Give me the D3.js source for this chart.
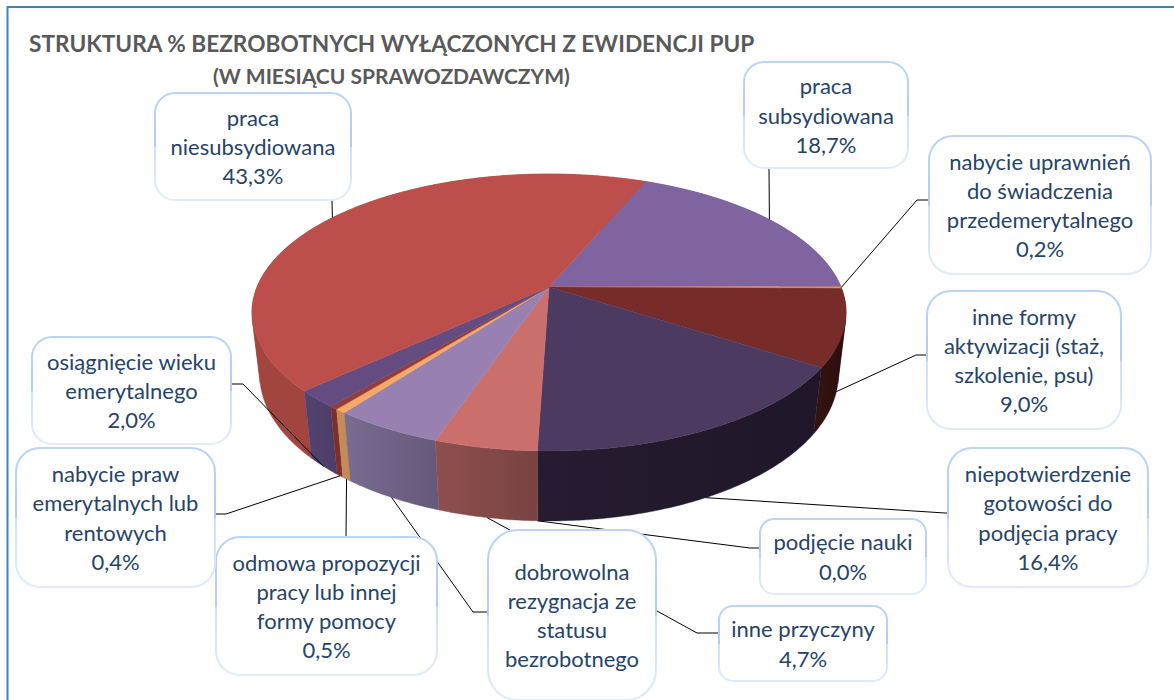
<!DOCTYPE html>
<html>
<head>
<meta charset="utf-8">
<script src="https://cdn.jsdelivr.net/npm/d3@7"></script>
<style>
  html, body { margin: 0; padding: 0; background: #fff; overflow: hidden; }
  svg { display: block; }
  text { font-family: Lato, "Open Sans", sans-serif; }
</style>
</head>
<body>
<div id="chart"></div>
<script>
const titleLines = ['STRUKTURA % BEZROBOTNYCH WYŁĄCZONYCH Z EWIDENCJI PUP', '(W MIESIĄCU SPRAWOZDAWCZYM)'];

// order follows the pie, clockwise from the first slice
const categories = [
  ['praca', 'subsydiowana'],
  ['nabycie uprawnień', 'do świadczenia', 'przedemerytalnego'],
  ['inne formy', 'aktywizacji (staż,', 'szkolenie, psu)'],
  ['niepotwierdzenie', 'gotowości do', 'podjęcia pracy'],
  ['podjęcie nauki'],
  ['inne przyczyny'],
  ['dobrowolna', 'rezygnacja ze', 'statusu', 'bezrobotnego'],
  ['odmowa propozycji', 'pracy lub innej', 'formy pomocy'],
  ['nabycie praw', 'emerytalnych lub', 'rentowych'],
  ['osiągnięcie wieku', 'emerytalnego'],
  ['praca', 'niesubsydiowana']
];
// the 5.0 is estimated from the slice, its label line is cut off in the picture
const values = [18.7, 0.2, 9.0, 16.4, 0.0, 4.7, 5.0, 0.5, 0.4, 2.0, 43.3];
const showValue = [true, true, true, true, true, true, false, true, true, true, true];

const topColors = ['#8064a0', '#f79646', '#772c2a', '#4d3a61', '#f0a060', '#cb6f6d', '#9880b0', '#f6a864', '#953b38', '#644c80', '#bc4f4b'];
const wallColors = [
  ['#5f4a78', '#5f4a78'], ['#d67f3a', '#d67f3a'], ['#2a0f0e', '#331211'], ['#1f1729', '#261b30'],
  ['#7a4442', '#7a4442'], ['#784341', '#8e504e'], ['#665a7c', '#7a6b90'], ['#c58b57', '#c58b57'],
  ['#7d2f2c', '#7d2f2c'], ['#4c3d69', '#54436f'], ['#a3453f', '#9f443f']
];

// label boxes: x, y, width, height, corner
const labelBoxes = [
  [744, 62, 164, 106, 20], [929, 136, 222, 138, 24], [927, 291, 194, 138, 24], [948, 448, 200, 139, 24],
  [760, 519, 166, 75, 14], [719, 606, 168, 75, 14], [488, 530, 168, 170, 30], [216, 537, 221, 138, 24],
  [16, 448, 199, 139, 24], [32, 337, 199, 107, 20], [155, 93, 196, 107, 20]
];
// where each leader goes after leaving the pie, ends on the box edge
const leaderPoints = [
  [[769, 168]], [[917, 200], [929, 200]], [[916, 355], [927, 355]], [[945, 513], [948, 513]],
  [[750, 548], [760, 548]], [[697, 633], [719, 633]], [[473, 612], [488, 612]], [[346, 537]],
  [[226, 514], [215, 514]], [[243, 384], [231, 384]], [[332, 200]]
];
// leader starts on the top rim for back slices, on the lower rim for the rest
const leaderOnTop = [true, true, false, false, false, false, false, false, false, false, true];

const width = 1174;
const height = 700;
const lineStep = 29.3;

const svg = d3.select('#chart').append('svg')
  .attr('width', width)
  .attr('height', height);
const defs = svg.append('defs');

// the 3d look: a disc seen in perspective, depth 0 is the top face, 1 the bottom
const cx = 549;
const cy = 287;
const radiusX = 292;
const radiusY = 133.8;
const tilt = 0.184;
const depthY = 63.2;
const depthW = 0.026;

function project(angle, depth, r) {
  const X = Math.sin(angle) * r;
  const Y = -Math.cos(angle) * r;
  const w = 1 - tilt * Y + depthW * depth;
  return [cx + radiusX * X / w, cy + (radiusY * Y + depthY * depth) / w];
}

const pie = d3.pie().sort(null).value(d => d)
  .startAngle(22.7 * Math.PI / 180)
  .endAngle((22.7 + 360) * Math.PI / 180);
const slices = pie(values);
const line = d3.line();

function arcAngles(d) {
  const n = Math.max(2, Math.ceil((d.endAngle - d.startAngle) / 0.01));
  return d3.range(n + 1).map(i => d.startAngle + (d.endAngle - d.startAngle) * i / n);
}

// a wall outline folds over itself at the pie's sides and the fold would not fill,
// so cut the angles into runs that keep one orientation
function wallRuns(angles) {
  const runs = [];
  let sign = 0;
  d3.pairs(angles).forEach(p => {
    const s = Math.sign(d3.polygonArea([project(p[0], 0, 1), project(p[1], 0, 1), project(p[1], 1, 1), project(p[0], 1, 1)]));
    if (s !== sign) {
      runs.push([p[0]]);
      sign = s;
    }
    runs[runs.length - 1].push(p[1]);
  });
  return runs;
}

// frame, runs off the right and bottom of the picture
svg.append('rect')
  .attr('x', 7.5).attr('y', 7)
  .attr('width', width + 20).attr('height', height + 20)
  .attr('fill', '#fff')
  .attr('stroke', '#3f80bd')
  .attr('stroke-width', 2);

svg.selectAll('.title')
  .data(titleLines)
  .join('text')
  .attr('class', 'title')
  .attr('x', (d, i) => i === 0 ? 29 : 213)
  .attr('y', (d, i) => i === 0 ? 52 : 84)
  .attr('font-size', (d, i) => i === 0 ? 22.65 : 21)
  .attr('font-weight', 700)
  .attr('fill', '#595959')
  .text(d => d);

// walls first, back to front, the top face hides what should not show
const wallOrder = d3.range(slices.length)
  .sort((a, b) => {
    const mid = s => (s.startAngle + s.endAngle) / 2;
    return -Math.cos(mid(slices[a])) - -Math.cos(mid(slices[b]));
  });

wallOrder.forEach(i => {
  const d = slices[i];
  if (d.endAngle - d.startAngle < 0.001) return;
  const first = project(d.startAngle, 0, 1);
  const last = project(d.endAngle, 0, 1);
  const grad = defs.append('linearGradient')
    .attr('id', 'wall' + i)
    .attr('gradientUnits', 'userSpaceOnUse')
    .attr('x1', first[0]).attr('y1', 0)
    .attr('x2', last[0]).attr('y2', 0);
  grad.append('stop').attr('offset', 0).attr('stop-color', wallColors[i][0]);
  grad.append('stop').attr('offset', 1).attr('stop-color', wallColors[i][1]);

  wallRuns(arcAngles(d)).forEach(angles => {
    const outline = angles.map(a => project(a, 0, 1))
      .concat(angles.slice().reverse().map(a => project(a, 1, 1)));
    svg.append('path')
      .attr('d', line(outline) + 'Z')
      .attr('fill', 'url(#wall' + i + ')')
      .attr('stroke', 'url(#wall' + i + ')')
      .attr('stroke-width', 0.4);
  });
});

svg.selectAll('.slice')
  .data(slices.filter(d => d.endAngle - d.startAngle > 0.001), d => d.index)
  .join('path')
  .attr('class', 'slice')
  .attr('d', d => line([[cx, cy]].concat(arcAngles(d).map(a => project(a, 0, 1)))) + 'Z')
  .attr('fill', d => topColors[d.index])
  .attr('stroke', d => topColors[d.index])
  .attr('stroke-width', 0.4);

// leaders
svg.selectAll('.leader')
  .data(slices)
  .join('path')
  .attr('class', 'leader')
  .attr('d', d => {
    const i = d.index;
    const mid = (d.startAngle + d.endAngle) / 2;
    return line([project(mid, leaderOnTop[i] ? 0 : 1, 1)].concat(leaderPoints[i]));
  })
  .attr('fill', 'none')
  .attr('stroke', '#000')
  .attr('stroke-width', 1);

// label boxes, the outline is a bit stronger around the middle
const boxGrad = defs.append('linearGradient')
  .attr('id', 'boxEdge')
  .attr('x1', 0).attr('y1', 0)
  .attr('x2', 0).attr('y2', 1);
boxGrad.append('stop').attr('offset', 0).attr('stop-color', '#bcd5f5');
boxGrad.append('stop').attr('offset', 0.5).attr('stop-color', '#b0cdf3');
boxGrad.append('stop').attr('offset', 0.51).attr('stop-color', '#cfe0f8');
boxGrad.append('stop').attr('offset', 1).attr('stop-color', '#e0ebfb');

const labels = svg.selectAll('.label')
  .data(slices)
  .join('g')
  .attr('class', 'label');

labels.append('rect')
  .attr('x', d => labelBoxes[d.index][0])
  .attr('y', d => labelBoxes[d.index][1])
  .attr('width', d => labelBoxes[d.index][2])
  .attr('height', d => labelBoxes[d.index][3])
  .attr('rx', d => labelBoxes[d.index][4])
  .attr('fill', '#fff')
  .attr('stroke', 'url(#boxEdge)')
  .attr('stroke-width', 2);

const percent = d3.format('.1f');

labels.each(function(d) {
  const i = d.index;
  const box = labelBoxes[i];
  const lines = categories[i].slice();
  if (showValue[i]) {
    lines.push(percent(values[i]).replace('.', ',') + '%');
  }
  const middle = box[1] + box[3] / 2;
  d3.select(this).selectAll('text')
    .data(lines)
    .join('text')
    .attr('x', box[0] + box[2] / 2)
    .attr('y', (t, k) => middle + (k - (lines.length - 1) / 2) * lineStep + 8.5)
    .attr('text-anchor', 'middle')
    .attr('font-size', 22)
    .attr('fill', '#264468')
    .text(t => t);
});
</script>
</body>
</html>
